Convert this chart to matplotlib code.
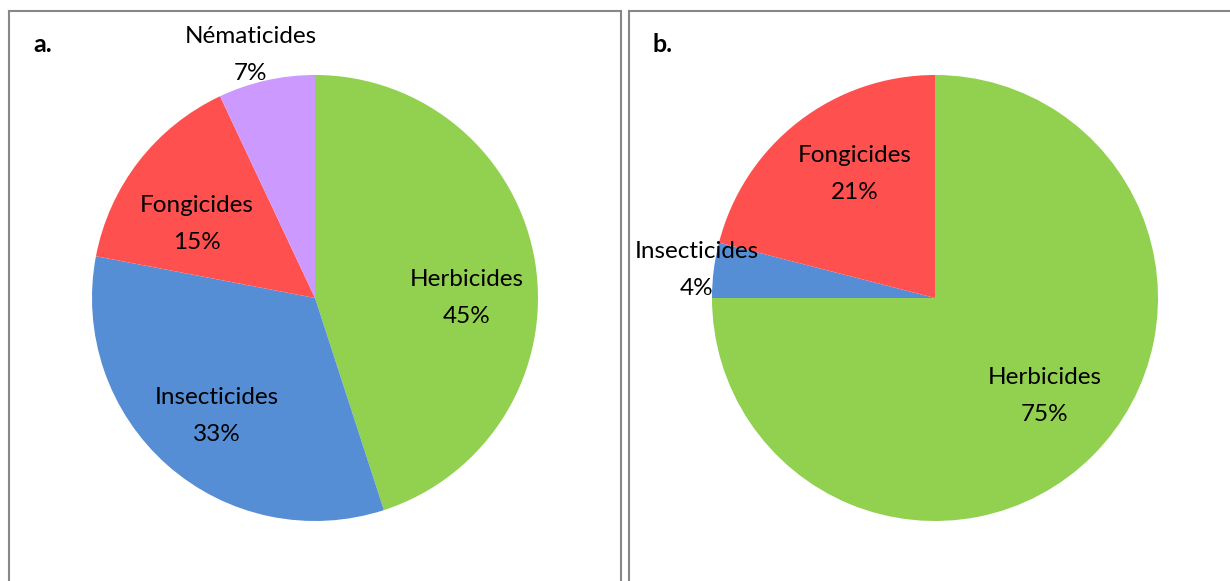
import matplotlib.pyplot as plt
from matplotlib.lines import Line2D

plt.rcParams['font.family'] = ['Lato', 'DejaVu Sans']

# panel a
labels_a = ["Herbicides", "Insecticides", "Fongicides", "Nématicides"]
values_a = [45, 33, 15, 7]
colors_a = ["#92D050", "#558ED5", "#FF5050", "#CC99FF"]

# panel b
labels_b = ["Herbicides", "Insecticides", "Fongicides"]
values_b = [75, 4, 21]
colors_b = ["#92D050", "#558ED5", "#FF5050"]

W, H = 1230, 581
fig = plt.figure(figsize=(W / 100, H / 100), dpi=100)

R = 223  # pie radius in px


def pie_axes(cx, cy):
    return fig.add_axes([(cx - R) / W, (H - cy - R) / H, 2 * R / W, 2 * R / H])


def draw(ax, values, colors, labels, label_pos):
    ax.pie(values, colors=colors, startangle=90, counterclock=False, radius=1,
           wedgeprops=dict(linewidth=0))
    ax.set_xlim(-1, 1)
    ax.set_ylim(-1, 1)
    ax.set_aspect('equal')
    ax.axis('off')
    for lab, val, (x, y) in zip(labels, values, label_pos):
        ax.text(x, y, f"{lab}\n{val}%", ha='center', va='center', fontsize=17.5,
                linespacing=1.95, color='black')


ax1 = pie_axes(315, 298)
# label centres in units of pie radius
pos_a = [(0.68, 0.0), (-0.44, -0.53), (-0.53, 0.33), (-0.29, 1.09)]
draw(ax1, values_a, colors_a, labels_a, pos_a)

ax2 = pie_axes(935, 298)
pos_b = [(0.49, -0.44), (-1.07, 0.125), (-0.36, 0.555)]
draw(ax2, values_b, colors_b, labels_b, pos_b)

# panel frames
gray = "#878787"
def hline(x0, x1, y):
    fig.add_artist(Line2D([x0 / W, x1 / W], [1 - y / H, 1 - y / H], color=gray, lw=1.5))
def vline(x, y0, y1):
    fig.add_artist(Line2D([x / W, x / W], [1 - y0 / H, 1 - y1 / H], color=gray, lw=1.5))

hline(9, 621, 11)
vline(9, 11, H)
vline(621, 11, H)
hline(629, W, 11)
vline(629, 11, H)

fig.text(33 / W, 1 - 44 / H, "a.", fontsize=18, fontweight='bold', va='center')
fig.text(653 / W, 1 - 44 / H, "b.", fontsize=18, fontweight='bold', va='center')

fig.savefig("out.png", dpi=100)
